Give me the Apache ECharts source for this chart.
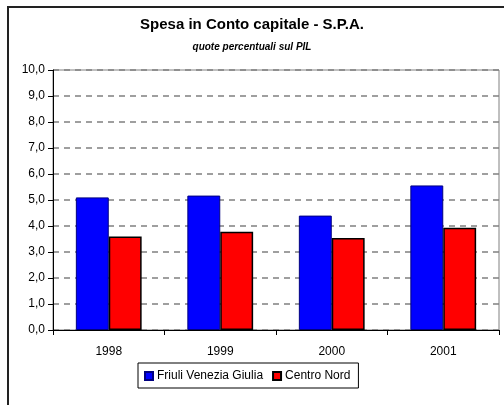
<!DOCTYPE html>
<html>
<head>
<meta charset="utf-8">
<script src="https://cdn.jsdelivr.net/npm/echarts@6/dist/echarts.min.js"></script>
<style>
  html, body { margin: 0; padding: 0; background: #fff; }
  #main { width: 504px; height: 405px; }
</style>
</head>
<body>
<div id="main"></div>
<script>
// data
var years = ['1998', '1999', '2000', '2001'];
var friuli = [5.1, 5.17, 4.4, 5.56];
var centroNord = [3.6, 3.78, 3.54, 3.93];

var myChart = echarts.init(document.getElementById('main'), null, { renderer: 'canvas' });

var font = 'Arial, "Liberation Sans", sans-serif';

var option = {
  animation: false,
  backgroundColor: '#fff',
  title: [
    {
      text: 'Spesa in Conto capitale - S.P.A.',
      left: 'center',
      top: 12,
      textStyle: { fontFamily: font, fontSize: 15, fontWeight: 'bold', color: '#000' }
    },
    {
      text: 'quote percentuali sul PIL',
      left: 'center',
      top: 37,
      textStyle: { fontFamily: font, fontSize: 10, fontWeight: 'bold', fontStyle: 'italic', color: '#000' }
    }
  ],
  graphic: [
    {
      type: 'rect',
      shape: { x: 8, y: 7, width: 600, height: 500 },
      style: { fill: 'none', stroke: '#222', lineWidth: 2 },
      silent: true
    }
  ],
  legend: {
    left: 138,
    top: 363,
    padding: [7, 8, 6, 6],
    borderColor: '#000',
    borderWidth: 1,
    itemWidth: 8,
    itemHeight: 8,
    itemGap: 9,
    icon: 'rect',
    textStyle: { fontFamily: font, fontSize: 12, color: '#000', padding: [0, 0, 0, -1] },
    data: ['Friuli Venezia Giulia', 'Centro Nord']
  },
  grid: {
    left: 53,
    right: 5,
    top: 70,
    bottom: 75,
    show: true,
    borderColor: '#808080',
    borderWidth: 1,
    containLabel: false
  },
  xAxis: {
    type: 'category',
    data: years,
    axisLine: { lineStyle: { color: '#000', width: 1 } },
    axisTick: { show: true, alignWithLabel: false, length: 5, lineStyle: { color: '#000' } },
    axisLabel: { fontFamily: font, fontSize: 12, color: '#000', margin: 16 }
  },
  yAxis: {
    type: 'value',
    min: 0,
    max: 10,
    interval: 1,
    axisLine: { show: true, lineStyle: { color: '#000', width: 1 } },
    axisTick: { show: true, length: 5, lineStyle: { color: '#000' } },
    axisLabel: {
      fontFamily: font, fontSize: 12, color: '#000', margin: 8,
      formatter: function (v) { return v.toFixed(1).replace('.', ','); }
    },
    splitLine: { show: true, lineStyle: { color: '#808080', type: [6, 5], width: 1.5 } }
  },
  series: [
    {
      name: 'Friuli Venezia Giulia',
      type: 'bar',
      data: friuli,
      barGap: '0%',
      barCategoryGap: '41%',
      itemStyle: { color: '#0000FF', borderColor: '#000080', borderWidth: 1 }
    },
    {
      name: 'Centro Nord',
      type: 'bar',
      data: centroNord,
      itemStyle: { color: '#FF0000', borderColor: '#000', borderWidth: 1.5 }
    }
  ]
};

myChart.setOption(option);
</script>
</body>
</html>
